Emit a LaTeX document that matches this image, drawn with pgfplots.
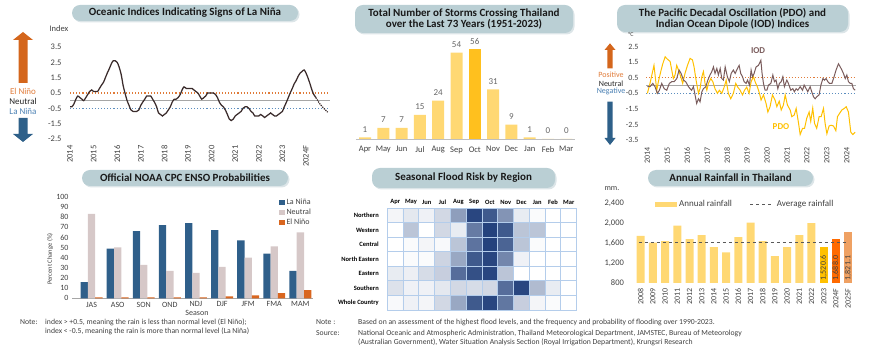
\documentclass[border=0pt]{standalone}
\usepackage{fontspec}
\setmainfont{Carlito}
\usepackage{pgfplots}
\pgfplotsset{compat=1.18}

\definecolor{pill}{HTML}{BACFD4}
\definecolor{pillsh}{HTML}{DCE5E8}
\definecolor{arrO}{HTML}{D4661C}
\definecolor{arrB}{HTML}{2E6089}
\definecolor{txtO}{HTML}{E07B39}
\definecolor{txtB}{HTML}{4A80B3}
\definecolor{refO}{HTML}{E07B39}
\definecolor{refB}{HTML}{5B8DBE}
\definecolor{refG}{HTML}{A6A6A6}
\definecolor{oniC}{HTML}{3A2B2B}
\definecolor{tickc}{HTML}{404040}
\definecolor{barY}{HTML}{FFD873}
\definecolor{barG}{HTML}{FFC01E}
\definecolor{pdoC}{HTML}{FFC000}
\definecolor{iodC}{HTML}{7A5C5C}
\definecolor{lnB}{HTML}{2F5F8A}
\definecolor{neuG}{HTML}{D6C8C8}
\definecolor{enO}{HTML}{D9661F}
\definecolor{gridc}{HTML}{B4CDEB}
\definecolor{r23}{HTML}{FFC000}
\definecolor{r24}{HTML}{FF6A00}
\definecolor{r25}{HTML}{EFA163}
\definecolor{avgC}{HTML}{595959}

\newcommand{\fs}[1]{\fontsize{#1}{#1}\selectfont}
\newcommand{\pill}[5]{%
  \fill[pillsh, rounded corners=8pt] (#1+1.5,#2-1.5) rectangle (#3+1.5,#4-1.5);
  \fill[pill, rounded corners=8pt] (#1,#2) rectangle (#3,#4);
  \node[font=\bfseries\fs{11}, text=black!90, align=center] at ({(#1+#3)/2},{(#2+#4)/2}) {#5};
}

\pgfplotsset{
  base/.style={scale only axis, anchor=south west, clip=false,
    axis line style={draw=none}, tick style={draw=none}, major tick length=0pt,
    /pgf/number format/assume math mode=true,
    tick label style={font=\fs{8.5}, text=tickc}},
  sqleg/.style={legend image code/.code={\fill[##1] (0pt,-2.6pt) rectangle (5.5pt,2.6pt);}},
}

\begin{document}
\begin{tikzpicture}[x=1pt,y=1pt]
\path[use as bounding box] (0,0) rectangle (870,353);

% ---------------- titles
\pill{72}{332}{298}{348}{Oceanic Indices Indicating Signs of La Niña}
\pill{355}{320}{573}{348}{Total Number of Storms Crossing Thailand\\over the Last 73 Years (1951-2023)}
\pill{617}{321}{848}{348}{The Pacific Decadal Oscillation (PDO) and\\Indian Ocean Dipole (IOD) Indices}
\pill{82}{167}{288}{183}{Official NOAA CPC ENSO Probabilities}
\pill{372}{165}{555}{185}{Seasonal Flood Risk by Region}
\pill{648}{167}{813}{183}{Annual Rainfall in Thailand}

% ---------------- panel 1 side arrows
\fill[arrO] (23,321) -- (33,313) -- (27.5,313) -- (27.5,270) -- (18.5,270) -- (18.5,313) -- (13,313) -- cycle;
\fill[arrB] (23,211) -- (33,219) -- (27.5,219) -- (27.5,235) -- (18.5,235) -- (18.5,219) -- (13,219) -- cycle;
\node[font=\fs{9}, text=txtO] at (23,262) {El Niño};
\node[font=\fs{9}, text=black!85] at (23,252) {Neutral};
\node[font=\fs{9}, text=txtB] at (23,242) {La Niña};
\node[font=\fs{8.5}, text=tickc] at (59,324) {Index};

\begin{axis}[base, at={(70pt,214pt)}, width=259.6pt, height=92pt,
  xmin=2014, xmax=2025, ymin=-2.5, ymax=3.5,
  ytick={-2.5,-1.5,-0.5,0.5,1.5,2.5,3.5},
  yticklabels={-2.5,-1.5,-0.5,0.5,1.5,2.5,3.5},
  y tick label style={xshift=-5pt},
  xtick={2014,...,2024},
  xticklabels={2014,2015,2016,2017,2018,2019,2020,2021,2022,2023,2024F},
  x tick label style={rotate=90, anchor=east, yshift=0pt, xshift=-3pt}]
\addplot[refG, line width=1pt] coordinates {(2014,0)(2025,0)};
\addplot[refO, dotted, line width=1.1pt] coordinates {(2014,0.5)(2025,0.5)};
\addplot[refB, dotted, line width=1.1pt] coordinates {(2014,-0.5)(2025,-0.5)};
\addplot[oniC, line width=1.25pt, smooth] coordinates {
(2014.00,-0.4)(2014.08,-0.4)(2014.17,-0.2)(2014.25,0.1)(2014.33,0.3)(2014.42,0.2)
(2014.50,0.1)(2014.58,0.0)(2014.67,0.2)(2014.75,0.4)(2014.83,0.6)(2014.92,0.7)
(2015.00,0.6)(2015.08,0.6)(2015.17,0.6)(2015.25,0.8)(2015.33,1.0)(2015.42,1.2)
(2015.50,1.5)(2015.58,1.8)(2015.67,2.1)(2015.75,2.4)(2015.83,2.6)(2015.92,2.6)
(2016.00,2.5)(2016.08,2.2)(2016.17,1.7)(2016.25,1.0)(2016.33,0.5)(2016.42,0.0)
(2016.50,-0.3)(2016.58,-0.6)(2016.67,-0.7)(2016.75,-0.7)(2016.83,-0.7)(2016.92,-0.6)
(2017.00,-0.3)(2017.08,-0.1)(2017.17,0.1)(2017.25,0.3)(2017.33,0.3)(2017.42,0.3)
(2017.50,0.1)(2017.58,-0.1)(2017.67,-0.4)(2017.75,-0.8)(2017.83,-0.9)(2017.92,-1.0)
(2018.00,-0.9)(2018.08,-0.8)(2018.17,-0.6)(2018.25,-0.4)(2018.33,-0.1)(2018.42,0.1)
(2018.50,0.1)(2018.58,0.2)(2018.67,0.4)(2018.75,0.7)(2018.83,0.9)(2018.92,0.8)
(2019.00,0.8)(2019.08,0.8)(2019.17,0.8)(2019.25,0.7)(2019.33,0.6)(2019.42,0.5)
(2019.50,0.3)(2019.58,0.1)(2019.67,0.2)(2019.75,0.3)(2019.83,0.5)(2019.92,0.5)
(2020.00,0.5)(2020.08,0.5)(2020.17,0.4)(2020.25,0.2)(2020.33,-0.1)(2020.42,-0.3)
(2020.50,-0.4)(2020.58,-0.6)(2020.67,-0.9)(2020.75,-1.2)(2020.83,-1.3)(2020.92,-1.2)
(2021.00,-1.0)(2021.08,-0.9)(2021.17,-0.8)(2021.25,-0.7)(2021.33,-0.5)(2021.42,-0.4)
(2021.50,-0.4)(2021.58,-0.5)(2021.67,-0.7)(2021.75,-0.8)(2021.83,-1.0)(2021.92,-1.0)
(2022.00,-1.0)(2022.08,-0.9)(2022.17,-1.0)(2022.25,-1.1)(2022.33,-1.0)(2022.42,-0.9)
(2022.50,-0.8)(2022.58,-0.9)(2022.67,-1.0)(2022.75,-1.0)(2022.83,-0.9)(2022.92,-0.8)
(2023.00,-0.7)(2023.08,-0.4)(2023.17,-0.1)(2023.25,0.2)(2023.33,0.5)(2023.42,0.8)
(2023.50,1.1)(2023.58,1.3)(2023.67,1.6)(2023.75,1.8)(2023.83,1.9)(2023.92,2.0)
(2024.00,1.8)(2024.08,1.5)(2024.17,1.1)(2024.25,0.7)(2024.33,0.4)(2024.42,0.2)};
\addplot[oniC, line width=1.25pt, densely dotted] coordinates {
(2024.42,0.2)(2024.50,0.0)(2024.58,-0.2)(2024.67,-0.35)(2024.75,-0.5)(2024.83,-0.62)(2024.92,-0.75)};
\end{axis}

% ---------------- panel 2 storms
\begin{axis}[base, at={(355.85pt,214pt)}, width=219.6pt, height=96pt,
  xmin=-0.5, xmax=11.5, ymin=0, ymax=60, ytick=\empty,
  xtick={0,...,11}, xticklabels={Apr,May,Jun,Jul,Aug,Sep,Oct,Nov,Dec,Jan,Feb,Mar},
  x tick label style={yshift=-4pt},
  axis x line*=bottom, x axis line style={-, draw=black!25, line width=0.9pt},
  ybar, bar width=12pt,
  nodes near coords, nodes near coords style={font=\fs{9}, text=black!60, yshift=1.5pt}]
\addplot[fill=barY, draw=none, bar shift=0pt] coordinates {(0,1)(1,7)(2,7)(3,15)(4,24)(5,54)(7,31)(8,9)(9,1)(10,0)(11,0)};
\addplot[fill=barG, draw=none, bar shift=0pt] coordinates {(6,56)};
\end{axis}

% ---------------- panel 3 PDO / IOD
\fill[arrO] (610,309.7) -- (615.5,303) -- (612.7,303) -- (612.7,284.7) -- (607.3,284.7) -- (607.3,303) -- (604.5,303) -- cycle;
\fill[arrB] (610,208) -- (615.5,215) -- (612.7,215) -- (612.7,251.3) -- (607.3,251.3) -- (607.3,215) -- (604.5,215) -- cycle;
\node[font=\fs{8}, text=txtO] at (611,278) {Positive};
\node[font=\fs{8}, text=black!85] at (611,269.7) {Neutral};
\node[font=\fs{8}, text=txtB] at (611,261.3) {Negative};
\node[font=\fs{6}, text=tickc] at (631,319) {°C};

\begin{axis}[base, at={(646pt,213pt)}, width=209.8pt, height=93.3pt,
  xmin=2013.93, xmax=2024.45, ymin=-3.5, ymax=2.5,
  ytick={-3.5,-2.5,-1.5,-0.5,0.5,1.5,2.5},
  yticklabels={-3.5,-2.5,-1.5,-0.5,0.5,1.5,2.5},
  tick label style={font=\fs{8}},
  y tick label style={xshift=-4pt},
  xtick={2014,...,2024},
  xticklabels={2014,2015,2016,2017,2018,2019,2020,2021,2022,2023,2024},
  x tick label style={rotate=90, anchor=east, xshift=-4pt}]
\addplot[refG, line width=1pt] coordinates {(2013.93,0)(2024.45,0)};
\addplot[refO, dotted, line width=1.1pt] coordinates {(2013.93,0.5)(2024.45,0.5)};
\addplot[refB, dotted, line width=1.1pt] coordinates {(2013.93,-0.5)(2024.45,-0.5)};
\addplot[pdoC, line width=1pt] coordinates {
(2014.00,-0.5)(2014.13,0.14)(2014.33,1.3)(2014.47,-0.3)(2014.55,0.25)(2014.67,0.9)
(2014.77,1.4)(2014.89,1.85)(2015.00,1.7)(2015.14,1.55)(2015.22,1.0)(2015.30,0.45)
(2015.39,0.7)(2015.47,1.3)(2015.56,1.0)(2015.67,0.57)(2015.77,0.14)(2015.89,0.8)
(2016.01,1.3)(2016.14,1.75)(2016.26,1.65)(2016.34,1.2)(2016.44,0.35)(2016.56,-0.5)
(2016.64,-0.2)(2016.73,0.57)(2016.81,0.9)(2016.89,0.14)(2016.98,-0.3)(2017.06,0.14)
(2017.18,0.45)(2017.28,0.25)(2017.39,-0.2)(2017.51,-0.5)(2017.61,-0.3)(2017.73,-0.5)
(2017.85,-0.1)(2017.95,0.35)(2018.06,-0.5)(2018.18,-0.85)(2018.31,-0.5)(2018.43,0.14)
(2018.53,-0.1)(2018.65,-0.3)(2018.77,-0.6)(2018.87,-0.3)(2018.98,-0.1)(2019.10,-0.5)
(2019.20,0.25)(2019.32,0.57)(2019.40,0.25)(2019.52,-0.1)(2019.62,-0.5)(2019.70,-0.93)
(2019.82,-0.6)(2019.95,-1.15)(2020.04,-1.7)(2020.15,-1.36)(2020.27,-0.6)(2020.40,-0.93)
(2020.49,-1.36)(2020.61,-1.0)(2020.71,-1.57)(2020.82,-1.25)(2020.91,-0.6)(2021.02,-1.25)
(2021.16,-1.57)(2021.24,-2.0)(2021.36,-1.9)(2021.46,-1.47)(2021.58,-2.43)(2021.66,-3.15)
(2021.78,-2.75)(2021.88,-2.75)(2021.99,-2.1)(2022.11,-1.7)(2022.19,-2.3)(2022.29,-1.45)
(2022.38,-2.43)(2022.49,-2.75)(2022.61,-2.0)(2022.71,-2.0)(2022.83,-1.47)(2022.91,-2.43)
(2023.00,-3.1)(2023.11,-2.6)(2023.21,-2.55)(2023.33,-2.6)(2023.45,-2.9)(2023.53,-2.0)
(2023.63,-1.8)(2023.75,-1.57)(2023.87,-1.47)(2023.97,-1.36)(2024.08,-1.7)(2024.20,-3.0)
(2024.30,-3.15)(2024.42,-3.0)};
\addplot[iodC, line width=1pt] coordinates {
(2014.00,-0.07)(2014.13,-0.07)(2014.27,0.14)(2014.38,-0.07)(2014.50,-0.5)(2014.60,-0.3)
(2014.72,0.14)(2014.84,-0.2)(2014.97,-0.3)(2015.10,0.14)(2015.22,0.25)(2015.34,0.25)
(2015.47,0.45)(2015.59,1.0)(2015.69,0.78)(2015.81,0.35)(2015.92,0.25)(2016.06,-0.07)
(2016.14,-0.2)(2016.22,-0.3)(2016.31,-0.07)(2016.39,-0.6)(2016.47,-1.15)(2016.56,-0.85)
(2016.64,-1.05)(2016.73,-0.4)(2016.81,-0.2)(2016.93,-0.07)(2017.03,0.35)(2017.14,0.68)
(2017.23,0.9)(2017.31,1.2)(2017.39,0.78)(2017.48,1.1)(2017.56,0.68)(2017.65,1.1)
(2017.73,0.45)(2017.81,0.35)(2017.90,1.2)(2018.01,0.57)(2018.11,0.25)(2018.20,0.78)
(2018.31,1.0)(2018.40,0.78)(2018.48,1.0)(2018.60,1.3)(2018.68,0.78)(2018.77,0.57)
(2018.85,0.25)(2018.95,0.14)(2019.02,0.35)(2019.12,0.03)(2019.20,1.0)(2019.27,0.57)
(2019.35,0.78)(2019.45,1.2)(2019.57,1.3)(2019.69,1.63)(2019.75,0.78)(2019.82,0.14)
(2019.90,-0.3)(2019.99,-0.3)(2020.07,0.03)(2020.19,0.14)(2020.29,0.68)(2020.37,0.25)
(2020.45,0.35)(2020.54,-0.2)(2020.62,0.14)(2020.71,0.25)(2020.79,0.57)(2020.87,-0.07)
(2020.99,0.35)(2021.07,0.14)(2021.19,-0.3)(2021.29,-0.2)(2021.37,-0.4)(2021.46,-0.2)
(2021.54,-0.3)(2021.66,-0.07)(2021.78,-0.3)(2021.86,0.03)(2021.96,-0.2)(2022.04,-0.4)
(2022.16,-0.07)(2022.24,-0.4)(2022.33,-0.72)(2022.41,-0.85)(2022.49,-0.72)(2022.61,-0.6)
(2022.70,0.03)(2022.80,0.45)(2022.88,0.35)(2022.96,0.45)(2023.05,0.25)(2023.13,0.14)
(2023.25,0.14)(2023.36,0.57)(2023.46,1.0)(2023.58,1.4)(2023.67,1.2)(2023.75,1.0)
(2023.83,0.78)(2023.92,0.45)(2024.00,0.68)(2024.08,0.25)(2024.17,0.14)(2024.25,0.14)
(2024.33,-0.2)(2024.42,-0.3)};
\node[font=\bfseries\fs{9}, text=iodC] at (axis cs:2019.55,2.25) {IOD};
\node[font=\bfseries\fs{9}, text=pdoC] at (axis cs:2020.7,-2.65) {PDO};
\end{axis}

% ---------------- panel 4 NOAA probabilities
\node[font=\fs{6.5}, text=tickc, rotate=90] at (50,94) {Percent Change (\%)};
\node[font=\fs{8}, text=tickc] at (197,40) {Season};
\begin{axis}[base, at={(72pt,54.7pt)}, width=241.4pt, height=101.6pt,
  xmin=-0.75, xmax=8.5, ymin=0, ymax=100, ytick={0,10,...,100},
  xtick={0,...,8}, xticklabels={JAS,ASO,SON,OND,NDJ,DJF,JFM,FMA,MAM},
  tick label style={font=\fs{8}},
  axis x line*=bottom, x axis line style={-, draw=black!35, line width=0.8pt},
  ybar, bar width=7.3pt,
  legend style={at={(0.857,0.997)}, anchor=north west, draw=none, fill=none,
    font=\fs{8}, text=tickc, inner sep=0pt, row sep=-1pt},
  legend cell align=left]
\addplot[fill=lnB, draw=none, bar shift=-7.3pt, sqleg] coordinates {(0,16)(1,49)(2,66)(3,72)(4,74)(5,67)(6,57)(7,44)(8,27)};
\addlegendentry{La Niña}
\addplot[fill=neuG, draw=none, bar shift=0pt, sqleg] coordinates {(0,83)(1,50)(2,33)(3,27)(4,25)(5,31)(6,40)(7,51)(8,65)};
\addlegendentry{Neutral}
\addplot[fill=enO, draw=none, bar shift=7.3pt, sqleg] coordinates {(0,1)(1,1)(2,1)(3,1)(4,1)(5,2)(6,3)(7,5)(8,8)};
\addlegendentry{El Niño}
\end{axis}

% ---------------- panel 5 flood heatmap
\begin{axis}[base, at={(387.3pt,43pt)}, width=189.4pt, height=101.7pt,
  xmin=-0.5, xmax=11.5, ymin=-0.5, ymax=6.5, y dir=reverse,
  xtick={0,...,11}, xticklabels={Apr,May,Jun,Jul,Aug,Sep,Oct,Nov,Dec,Jan,Feb,Mar},
  xticklabel pos=upper,
  ytick={0,...,6}, yticklabels={Northern,Western,Central,North Eastern,Eastern,Southern,Whole Country},
  tick label style={font=\bfseries\fs{6.5}, text=black},
  y tick label style={xshift=-5pt},
  minor xtick={-0.5,0.5,...,11.5}, minor ytick={-0.5,0.5,...,6.5},
  xminorgrids, yminorgrids, minor grid style={gridc, line width=0.9pt},
  axis on top,
  colormap={flood}{rgb255=(255,255,255) rgb255=(31,62,122)},
  point meta min=0, point meta max=1]
\addplot[matrix plot*, mesh/cols=12, point meta=explicit] table[meta=c] {
x y c
0 0 0.05
1 0 0.12
2 0 0.07
3 0 0.2
4 0 0.5
5 0 0.95
6 0 0.85
7 0 0.55
8 0 0.1
9 0 0.02
10 0 0
11 0 0
0 1 0
1 1 0.3
2 1 0
3 1 0.2
4 1 0.1
5 1 0.68
6 1 0.97
7 1 0.85
8 1 0.3
9 1 0.3
10 1 0
11 1 0
0 2 0
1 2 0.02
2 2 0.05
3 2 0.03
4 2 0.3
5 2 0.72
6 2 0.97
7 2 0.8
8 2 0.3
9 2 0.02
10 2 0
11 2 0
0 3 0
1 3 0.02
2 3 0.02
3 3 0.22
4 3 0.45
5 3 0.85
6 3 0.95
7 3 0.62
8 3 0.07
9 3 0
10 3 0
11 3 0
0 4 0.1
1 4 0.08
2 4 0.18
3 4 0.25
4 4 0.75
5 4 0.9
6 4 0.95
7 4 0.3
8 4 0
9 4 0
10 4 0
11 4 0
0 5 0.15
1 5 0.07
2 5 0.07
3 5 0.12
4 5 0.2
5 5 0.18
6 5 0.2
7 5 0.75
8 5 0.95
9 5 0.35
10 5 0.1
11 5 0
0 6 0.03
1 6 0.07
2 6 0.05
3 6 0.2
4 6 0.45
5 6 0.85
6 6 0.95
7 6 0.7
8 6 0.25
9 6 0.05
10 6 0.02
11 6 0
};
\end{axis}

% ---------------- panel 6 annual rainfall
\node[font=\fs{8}, text=tickc] at (612,164.7) {mm.};
\begin{axis}[base, at={(633.4pt,70pt)}, width=222pt, height=80pt, clip=true,
  xmin=-0.6, xmax=17.6, ymin=800, ymax=2400,
  ytick={800,1200,1600,2000,2400}, yticklabels={800,{1,200},{1,600},{2,000},{2,400}},
  y tick label style={xshift=-6pt},
  xtick={0,...,17},
  xticklabels={2008,2009,2010,2011,2012,2013,2014,2015,2016,2017,2018,2019,2020,2021,2022,2023,2024F,2025F},
  x tick label style={rotate=90, anchor=east, xshift=-2pt, font=\fs{8}},
  ybar, bar width=8pt,
  legend style={at={(0.097,0.981)}, anchor=west, draw=none, fill=none,
    font=\fs{9}, text=tickc, inner sep=0pt,
    /tikz/every even column/.append style={column sep=16pt}},
  legend columns=2]
\addplot[fill=barY, draw=none, bar shift=0pt,
  legend image code/.code={\fill[barY] (0pt,-2.8pt) rectangle (22pt,2.8pt);}] coordinates {
(0,1743)(1,1605)(2,1637)(3,1949)(4,1676)(5,1756)(6,1517)(7,1411)(8,1716)(9,2008)(10,1637)(11,1338)(12,1517)(13,1756)(14,1995)};
\addlegendentry{Annual rainfall}
\addplot[fill=r23, draw=none, bar shift=0pt, forget plot] coordinates {(15,1520.6)};
\addplot[fill=r24, draw=none, bar shift=0pt, forget plot] coordinates {(16,1688.0)};
\addplot[fill=r25, draw=none, bar shift=0pt, forget plot] coordinates {(17,1821.1)};
\addplot[sharp plot, avgC, dashed, line width=0.9pt,
  legend image code/.code={\draw[avgC, dashed, line width=0.9pt] (0pt,0pt) -- (24pt,0pt);}] coordinates {(-0.15,1615)(17,1615)};
\addlegendentry{Average rainfall}
\node[rotate=90, font=\fs{8}, text=black!75] at (axis cs:15,1100) {1,520.6};
\node[rotate=90, font=\fs{8}, text=black!75] at (axis cs:16,1100) {1,688.0};
\node[rotate=90, font=\fs{8}, text=black!75] at (axis cs:17,1100) {1,821.1};
\end{axis}

% ---------------- footnotes
\begin{scope}[every node/.style={font=\fs{7.7}, text=tickc, anchor=base west, inner sep=0pt}]
\node at (20,28) {Note:};
\node at (45,28) {index > +0.5, meaning the rain is less than normal level (El Niño);};
\node at (45,19) {index < -0.5, meaning the rain is more than normal level (La Niña)};
\node at (316,28) {Note :};
\node at (358,28) {Based on an assessment of the highest flood levels, and the frequency and probability of flooding over 1990-2023.};
\node at (316,17) {Source:};
\node at (358,17) {National Oceanic and Atmospheric Administration, Thailand Meteorological Department, JAMSTEC, Bureau of Meteorology};
\node at (358,8) {(Australian Government), Water Situation Analysis Section (Royal Irrigation Department), Krungsri Research};
\end{scope}
\end{tikzpicture}
\end{document}
